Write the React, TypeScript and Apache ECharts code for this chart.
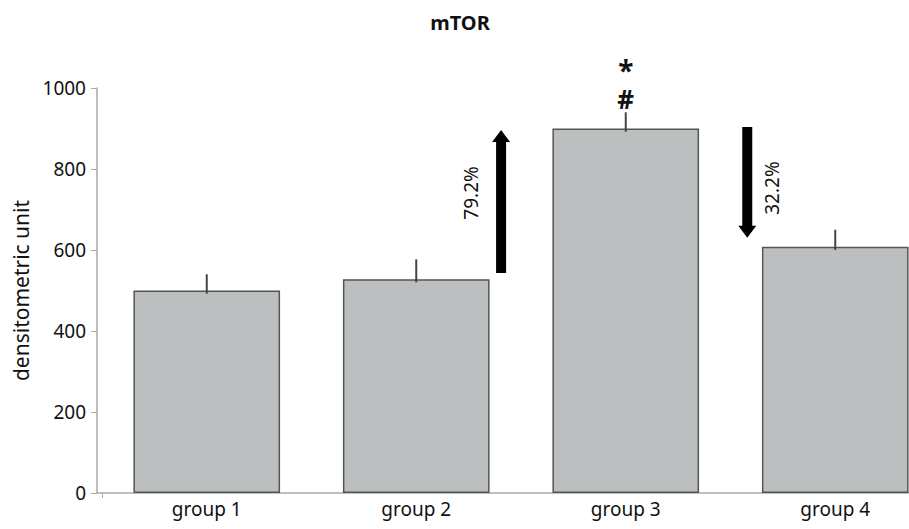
import React, { useEffect, useRef } from "react";
import * as echarts from "echarts";

const categories = ["group 1", "group 2", "group 3", "group 4"];
const values = [500, 528, 900, 608];
const errors = [40, 49, 40, 42];
const yTicks = [0, 200, 400, 600, 800, 1000];
const title = "mTOR";
const yName = "densitometric unit";
// arrows: position in category units (fractional), from value, to value
const arrows = [
  { pos: 1.405, from: 543, to: 896 },
  { pos: 2.58, from: 904, to: 630 },
];
const arrowLabels = [
  { pos: 1.26, value: 741, text: "79.2%" },
  { pos: 2.7, value: 753, text: "32.2%" },
];
// significance marks above group 3
const marks = [
  { pos: 2, value: 1045, text: "*", size: 28, lineHeight: 22 },
  { pos: 2, value: 973, text: "#", size: 26, lineHeight: 24 },
];

const FONT = "'Noto Sans', sans-serif";

export default function App() {
  const ref = useRef<HTMLDivElement>(null);
  useEffect(() => {
    if (!ref.current) return;
    const chart = echarts.init(ref.current, null, { renderer: "svg" });
    chart.setOption({
      animation: false,
      backgroundColor: "#ffffff",
      title: {
        text: title,
        left: 455,
        top: 7,
        textAlign: "center",
        textStyle: { fontFamily: FONT, fontSize: 20, fontWeight: "bold", color: "#111" },
      },
      grid: { left: 102, top: 88, bottom: 36, width: 838, outerBoundsMode: "none", containLabel: false },
      xAxis: {
        type: "category",
        data: categories,
        axisLine: { lineStyle: { color: "#aaa", width: 1.5 } },
        axisTick: { show: true, length: 5, interval: (i: number) => i === 2, lineStyle: { color: "#aaa" } },
        axisLabel: { fontFamily: FONT, fontSize: 19, color: "#111", margin: 6 },
      },
      yAxis: {
        type: "value",
        min: 0,
        max: 1000,
        interval: 200,
        offset: 5,
        name: yName,
        nameLocation: "middle",
        nameGap: 63,
        nameTextStyle: { fontFamily: FONT, fontSize: 21, color: "#111" },
        splitLine: { show: false },
        axisLine: { show: true, lineStyle: { color: "#aaa", width: 1.5 } },
        axisTick: { show: true, length: 6, lineStyle: { color: "#aaa" } },
        axisLabel: {
          fontFamily: FONT,
          fontSize: 19,
          color: "#111",
          margin: 11,
          formatter: (v: number) => (yTicks.includes(v) ? String(v) : ""),
        },
      },
      series: [
        {
          type: "bar",
          data: values,
          barWidth: "70%",
          itemStyle: { color: "#bcbfc0", borderColor: "#555", borderWidth: 1.5 },
          z: 2,
        },
        {
          type: "custom",
          z: 5,
          data: values.map((v, i) => [i, v, errors[i]]),
          renderItem: (params: any, api: any) => {
            const i = api.value(0);
            const v = api.value(1);
            const e = api.value(2);
            const p0 = api.coord([i, v - 8]);
            const p1 = api.coord([i, v + e]);
            return {
              type: "line",
              shape: { x1: p0[0], y1: p0[1], x2: p1[0], y2: p1[1] },
              style: { stroke: "#444", lineWidth: 2 },
            };
          },
        },
      ],
    });

    const toPx = (pos: number, val: number) => {
      const a = chart.convertToPixel({ gridIndex: 0 }, [0, val]) as number[];
      const b = chart.convertToPixel({ gridIndex: 0 }, [1, val]) as number[];
      const step = b[0] - a[0];
      return [a[0] + pos * step, a[1]];
    };

    const graphics: any[] = [];
    // extend x axis line to the offset y axis
    const zero = toPx(-0.5, 0);
    graphics.push({
      type: "line",
      shape: { x1: zero[0] - 6, y1: zero[1], x2: zero[0], y2: zero[1] },
      style: { stroke: "#aaa", lineWidth: 1.5 },
      z: 1,
    });
    arrows.forEach((ar) => {
      const [x, y1] = toPx(ar.pos, ar.from);
      const [, y2] = toPx(ar.pos, ar.to);
      const dir = y2 < y1 ? -1 : 1;
      const sw = 5;
      const hw = 9;
      const hl = 12;
      const yb = y2 - dir * hl;
      graphics.push({
        type: "polygon",
        shape: {
          points: [
            [x - sw, y1],
            [x + sw, y1],
            [x + sw, yb],
            [x + hw, yb],
            [x, y2],
            [x - hw, yb],
            [x - sw, yb],
          ],
        },
        style: { fill: "#000" },
        z: 10,
      });
    });
    arrowLabels.forEach((l) => {
      const [x, y] = toPx(l.pos, l.value);
      graphics.push({
        type: "text",
        x,
        y,
        rotation: Math.PI / 2,
        style: {
          text: l.text,
          fontFamily: FONT,
          fontSize: 19,
          fill: "#111",
          align: "center",
          verticalAlign: "middle",
        },
        z: 10,
      });
    });
    marks.forEach((m) => {
      const [x, y] = toPx(m.pos, m.value);
      graphics.push({
        type: "text",
        x,
        y,
        style: {
          text: m.text,
          fontFamily: FONT,
          fontSize: m.size,
          lineHeight: m.lineHeight,
          fontWeight: "bold",
          fill: "#111",
          align: "center",
          verticalAlign: "middle",
        },
        z: 10,
      });
    });
    chart.setOption({ graphic: graphics });

    return () => chart.dispose();
  }, []);
  return (
    <div
      ref={ref}
      style={{ position: "fixed", left: 0, top: 0, width: 909, height: 529, background: "#fff" }}
    />
  );
}
